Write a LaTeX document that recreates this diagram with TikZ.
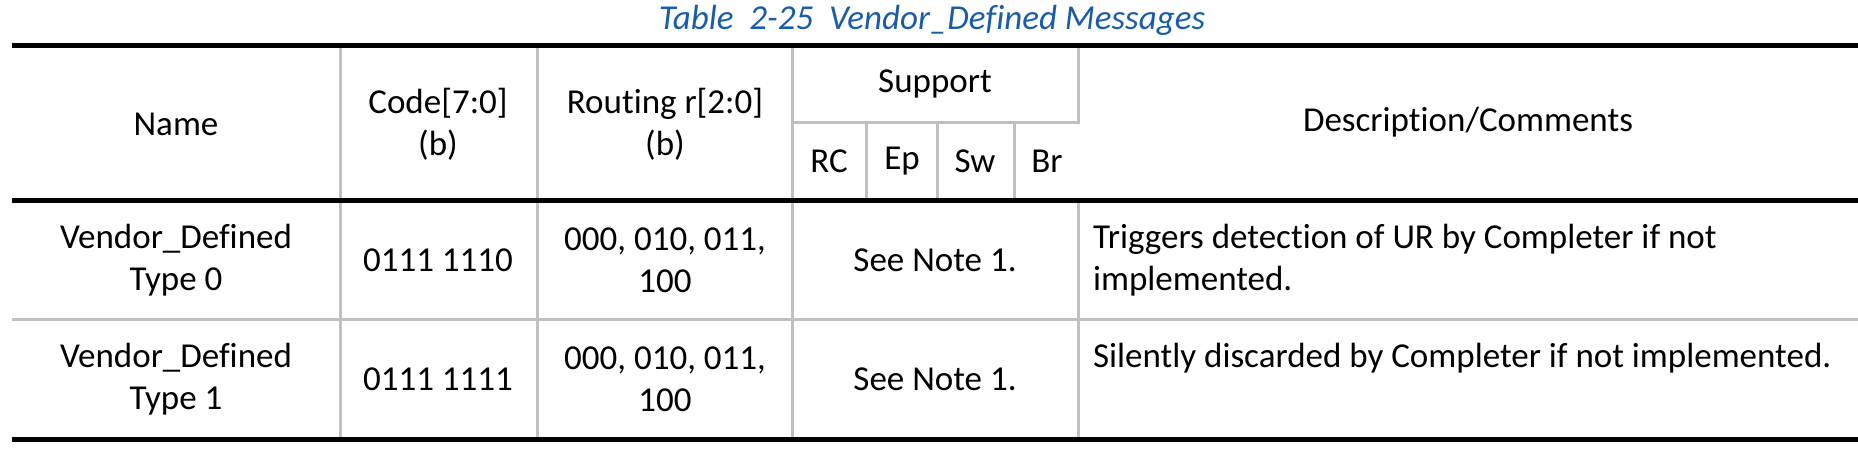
\documentclass[tikz,border=0pt]{standalone}
\usepackage{fontspec}
\setmainfont{Carlito}[Ligatures=NoCommon]
\definecolor{captionblue}{RGB}{26,92,168}
\definecolor{gridgray}{RGB}{192,192,192}
\begin{document}
\begin{tikzpicture}[x=0.5pt,y=-0.5pt,font=\fontsize{17.5}{21}\selectfont,
    thickrule/.style={line width=2.5pt},
    gridline/.style={draw=gridgray,line width=1.5pt}]

        \useasboundingbox (0,0) rectangle (1858,456);

        \node[text=captionblue,font=\itshape\fontsize{17.5}{21}\selectfont] (title) at (932,20) {Table~~2-25~~Vendor\_Defined Messages};

        \begin{scope}[every node/.style={align=center}]
          \node (name)    at (176,124)  {Name};
          \node (code)    at (438,124)  {Code[7:0]\\(b)};
          \node (routing) at (665,124)  {Routing r[2:0]\\(b)};
          \node (support) at (935,84)   {Support};
          \node (rc)      at (829,161)  {RC};
          \node (ep)      at (902,161)  {Ep};
          \node (sw)      at (975,161)  {Sw};
          \node (br)      at (1047,161) {Br};
          \node (desc)    at (1468,122) {Description/Comments};

          \node (name0)    at (176,260) {Vendor\_Defined\\Type 0};
          \node (code0)    at (438,260) {0111 1110};
          \node (routing0) at (665,260) {000, 010, 011,\\100};
          \node (note0)    at (935,260) {See Note 1.};

          \node (name1)    at (176,379) {Vendor\_Defined\\Type 1};
          \node (code1)    at (438,379) {0111 1111};
          \node (routing1) at (665,379) {000, 010, 011,\\100};
          \node (note1)    at (935,379) {See Note 1.};
        \end{scope}

        \coordinate (dleft) at (1086,0);
        \begin{scope}[every node/.style={align=left,anchor=north west}]
          \node (desc0) at (name0.north -| dleft) {Triggers detection of UR by Completer if not\\implemented.};
          \node (desc1) at (name1.north -| dleft) {Silently discarded by Completer if not implemented.};
        \end{scope}

        % grid
        \draw[gridline] (340,45) -- (340,439);
        \draw[gridline] (537,45) -- (537,439);
        \draw[gridline] (792,45) -- (792,439);
        \draw[gridline] (1078,45) -- (1078,122) -- (792,122);
        \draw[gridline] (1078,200) -- (1078,439);
        \draw[gridline] (866,122) -- (866,200);
        \draw[gridline] (937,122) -- (937,200);
        \draw[gridline] (1014,122) -- (1014,200);
        \draw[gridline] (12,319) -- (1858,319);

        % rules
        \draw[thickrule] (12,45) -- (1858,45);
        \draw[thickrule] (12,200) -- (1858,200);
        \draw[thickrule] (12,439) -- (1858,439);

      \end{tikzpicture}
\end{document}
